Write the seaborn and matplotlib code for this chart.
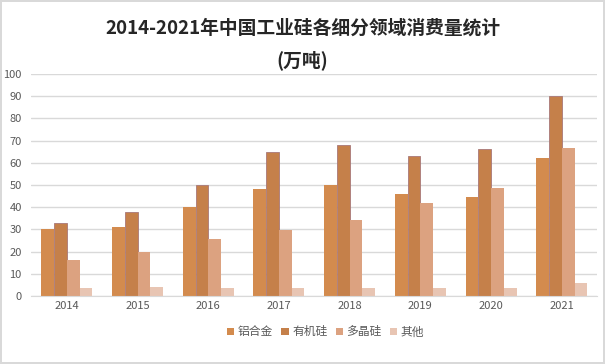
import pandas as pd
import matplotlib.pyplot as plt
import seaborn as sns

years = ['2014', '2015', '2016', '2017', '2018', '2019', '2020', '2021']
aluminum = [30, 31, 40, 48, 50, 46, 44.6, 62]
organic = [33, 38, 50, 65, 68, 63, 66.3, 90]
poly = [16.3, 20, 25.8, 29.8, 34, 42, 48.7, 66.8]
other = [3.6, 4, 3.6, 3.6, 3.6, 3.6, 3.6, 6]
series = ['铝合金', '有机硅', '多晶硅', '其他']
colors = ['#D38B4E', '#C5804A', '#DCA280', '#E8C5B3']

df = pd.DataFrame({'year': years * 4,
                   'type': [s for s in series for _ in years],
                   'value': aluminum + organic + poly + other})

sns.set_style('white')
plt.rcParams['font.family'] = ['Noto Sans CJK SC', 'DejaVu Sans']

fig = plt.figure(figsize=(6.05, 3.64), dpi=100)
ax = fig.add_axes([0.052, 0.187, 0.935, 0.61])
sns.barplot(data=df, x='year', y='value', hue='type', palette=colors,
            saturation=1, width=0.72, gap=0, linewidth=0, ax=ax, legend=True)
# organic silicon bars have a thin purplish outline in the original
for bar in ax.containers[1]:
    bar.set_edgecolor('#A87878')
    bar.set_linewidth(0.6)

ax.set_ylim(0, 100)
ax.set_yticks(range(0, 101, 10))
ax.yaxis.grid(True, color='#D9D9D9', linewidth=1)
ax.set_axisbelow(True)
for s in ['top', 'right', 'left']:
    ax.spines[s].set_visible(False)
ax.spines['bottom'].set_color('#D9D9D9')
ax.set_xlabel('')
ax.set_ylabel('')
ax.tick_params(axis='both', length=0, labelsize=8, colors='#595959')
ax.tick_params(axis='y', pad=7)

ax.legend(loc='upper center', bbox_to_anchor=(0.52, -0.085), ncol=4, frameon=False,
          fontsize=8.5, handlelength=0.6, handleheight=0.6, handletextpad=0.3,
          columnspacing=0.7, labelcolor='#595959')

fig.text(0.5, 0.923, '2014-2021年中国工业硅各细分领域消费量统计', ha='center', va='center',
         fontsize=13.5, fontweight='bold')
fig.text(0.5, 0.835, '(万吨)', ha='center', va='center', fontsize=13.5, fontweight='bold')

fig.patch.set_edgecolor('#D9D9D9')
fig.patch.set_linewidth(1.5)
fig.savefig('out.png', dpi=100)
